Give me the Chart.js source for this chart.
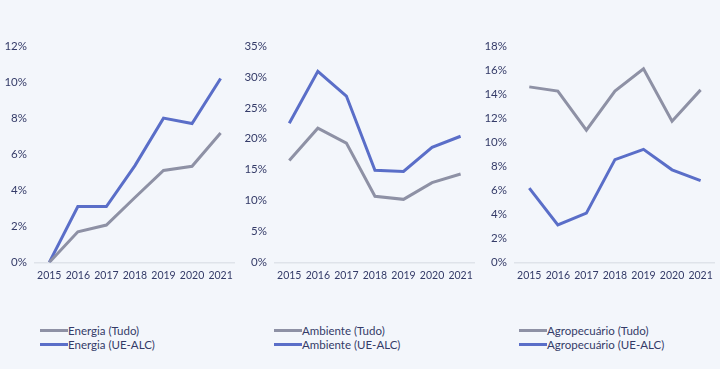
<!DOCTYPE html>
<html>
<head>
<meta charset="utf-8">
<script src="https://cdn.jsdelivr.net/npm/chart.js@4/dist/chart.umd.min.js"></script>
<style>
  html, body { margin: 0; padding: 0; }
  body { width: 720px; height: 369px; background: #f3f6fb; position: relative; overflow: hidden;
         font-family: Lato, 'Open Sans', sans-serif; }
  .panel { position: absolute; top: 0; width: 240px; height: 300px; }
  .legend { position: absolute; top: 323px; font-size: 11.5px; color: #343b68; }
  .leg-row { display: flex; align-items: center; height: 14px; }
  .leg-sw { width: 28px; height: 3px; margin-right: 0; }
</style>
</head>
<body>
<div class="panel" style="left:0"><canvas id="c1"></canvas></div>
<div class="panel" style="left:240px"><canvas id="c2"></canvas></div>
<div class="panel" style="left:480px"><canvas id="c3"></canvas></div>
<div class="legend" id="leg1" style="left:40px"></div>
<div class="legend" id="leg2" style="left:274px"></div>
<div class="legend" id="leg3" style="left:519px"></div>

<script>
/* ── Datos ── */
const YEARS = ['2015', '2016', '2017', '2018', '2019', '2020', '2021'];

const ENERGIA_TUDO   = [0, 1.7, 2.07, 3.6, 5.1, 5.33, 7.17];
const ENERGIA_UEALC  = [0, 3.1, 3.1, 5.37, 8.0, 7.7, 10.2];
const AMBIENTE_TUDO  = [16.5, 21.7, 19.3, 10.7, 10.2, 12.9, 14.3];
const AMBIENTE_UEALC = [22.5, 30.9, 26.9, 14.9, 14.7, 18.6, 20.4];
const AGRO_TUDO      = [14.6, 14.25, 11.0, 14.25, 16.1, 11.75, 14.35];
const AGRO_UEALC     = [6.18, 3.12, 4.1, 8.55, 9.4, 7.7, 6.8];

const PANELS = [
  { id: 'c1', leg: 'leg1', names: ['Energia (Tudo)', 'Energia (UE-ALC)'],
    series: [ENERGIA_TUDO, ENERGIA_UEALC], max: 12, step: 2 },
  { id: 'c2', leg: 'leg2', names: ['Ambiente (Tudo)', 'Ambiente (UE-ALC)'],
    series: [AMBIENTE_TUDO, AMBIENTE_UEALC], max: 35, step: 5 },
  { id: 'c3', leg: 'leg3', names: ['Agropecuário (Tudo)', 'Agropecuário (UE-ALC)'],
    series: [AGRO_TUDO, AGRO_UEALC], max: 18, step: 2 },
];

const GRAY  = '#8e91a5';
const BLUE  = '#5a6ec8';
const TEXT  = '#343b68';
const AXIS  = '#dfe3ea';
const COLORS = [GRAY, BLUE];

/* ── Gráfico ── */
function initPanel(p) {
  new Chart(document.getElementById(p.id), {
    type: 'line',
    data: {
      labels: YEARS,
      datasets: p.series.map((s, i) => ({
        label: p.names[i],
        data: s,
        borderColor: COLORS[i],
        borderWidth: 3,
        pointRadius: 0,
        tension: 0,
      })),
    },
    options: {
      responsive: true,
      maintainAspectRatio: false,
      animation: false,
      layout: { padding: { top: 46, right: 3, bottom: 11, left: 0 } },
      plugins: { legend: { display: false }, tooltip: { enabled: false } },
      scales: {
        x: {
          offset: true,
          grid: { display: false, drawTicks: false },
          border: { display: true, color: AXIS, width: 1.5 },
          ticks: { color: TEXT, font: { family: 'Lato', size: 10.5 }, padding: 7,
                   maxRotation: 0, autoSkip: false },
        },
        y: {
          min: 0, max: p.max,
          grid: { display: false, drawTicks: false },
          border: { display: false },
          ticks: { color: TEXT, font: { family: 'Lato', size: 11.5 }, stepSize: p.step, padding: 8,
                   callback: v => v + '%' },
          afterFit: s => { s.width = 35; },
        },
      },
    },
  });
}

/* ── Leyenda ── */
function renderLegend(p) {
  const box = document.getElementById(p.leg);
  p.names.forEach((n, i) => {
    const row = document.createElement('div');
    row.className = 'leg-row';
    row.innerHTML = `<span class="leg-sw" style="background:${COLORS[i]}"></span><span>${n}</span>`;
    box.appendChild(row);
  });
}

PANELS.forEach(p => { initPanel(p); renderLegend(p); });
</script>
</body>
</html>
